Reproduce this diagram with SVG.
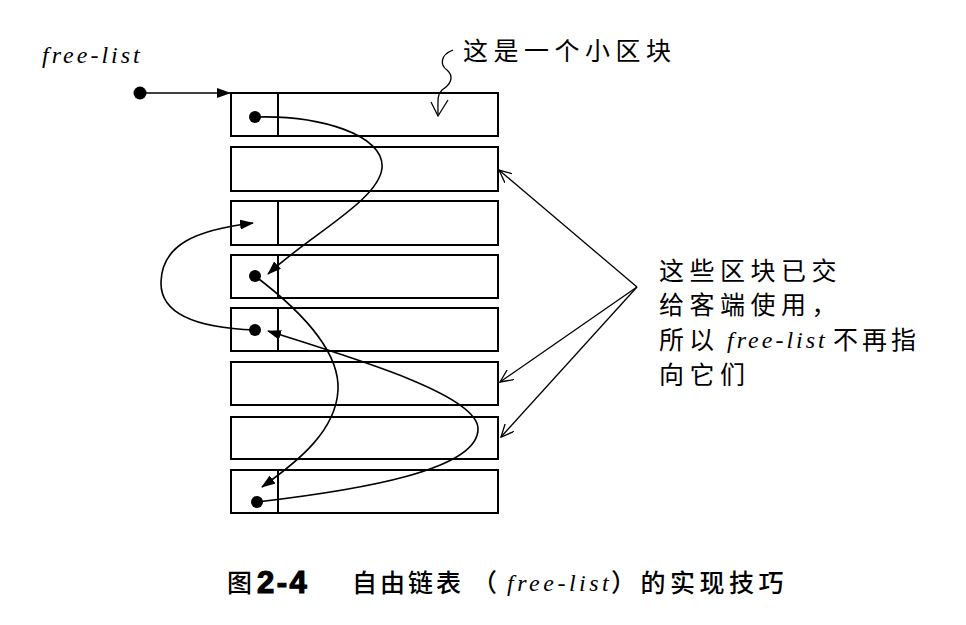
<svg xmlns="http://www.w3.org/2000/svg" width="966" height="625" viewBox="0 0 966 625">
<style>
.blk{fill:#fff;stroke:#000;stroke-width:2}
.div{stroke:#000;stroke-width:2}
.dot{fill:#000}
.cv{fill:none;stroke:#000;stroke-width:1.6}
.ann{fill:none;stroke:#000;stroke-width:1.3}
.cjk{font-family:"Noto Sans CJK SC","Noto Sans",sans-serif;font-size:25px;fill:#000}
.it{font-family:"Liberation Serif","Times New Roman",serif;font-style:italic;font-size:24px;fill:#000}
.cap{font-family:"Noto Sans CJK SC","Noto Sans",sans-serif;font-size:25px;fill:#000;font-weight:500}
</style>
<defs>
<marker id="tri" viewBox="0 0 14 10" refX="13" refY="5" markerWidth="14" markerHeight="10" markerUnits="userSpaceOnUse" orient="auto">
<path d="M0,0 L14,5 L0,10 Z" fill="#000"/>
</marker>
<marker id="open" viewBox="0 0 14 12" refX="13" refY="6" markerWidth="14" markerHeight="12" markerUnits="userSpaceOnUse" orient="auto">
<path d="M0,0 L13,6 L0,12" fill="none" stroke="#000" stroke-width="1.3"/>
</marker>
</defs>
<rect width="966" height="625" fill="#fff"/>

<g id="label-free-list">
<text class="it" x="42" y="63" letter-spacing="3">free-list</text>
</g>

<g id="block1"><rect class="blk" x="231" y="93" width="267" height="43"/><line class="div" x1="278" y1="93" x2="278" y2="136"/><circle class="dot" cx="255" cy="117" r="6"/></g>
<g id="block2"><rect class="blk" x="231" y="147" width="267" height="44"/></g>
<g id="block3"><rect class="blk" x="231" y="201" width="267" height="44"/><line class="div" x1="278" y1="201" x2="278" y2="245"/></g>
<g id="block4"><rect class="blk" x="231" y="255" width="267" height="43"/><line class="div" x1="278" y1="255" x2="278" y2="298"/><circle class="dot" cx="255" cy="276" r="6"/></g>
<g id="block5"><rect class="blk" x="231" y="308" width="267" height="43"/><line class="div" x1="278" y1="308" x2="278" y2="351"/><circle class="dot" cx="255" cy="330" r="6"/></g>
<g id="block6"><rect class="blk" x="231" y="362" width="267" height="43"/></g>
<g id="block7"><rect class="blk" x="231" y="417" width="267" height="42"/></g>
<g id="block8"><rect class="blk" x="231" y="470" width="267" height="43"/><line class="div" x1="278" y1="470" x2="278" y2="513"/><circle class="dot" cx="257" cy="502" r="6"/></g>

<g id="label-small-block">
<text class="cjk" x="463" y="60" letter-spacing="5.5">这是一个小区块</text>
</g>

<g id="label-allocated">
<text class="cjk" x="659" y="280" letter-spacing="5.5">这些区块已交</text>
<text class="cjk" x="659" y="314" letter-spacing="5.5">给客端使用，</text>
<text class="cjk" x="659" y="349" letter-spacing="5">所以</text>
<text class="it" x="727" y="348" letter-spacing="3">free-list</text>
<text class="cjk" x="833" y="349" letter-spacing="4">不再指</text>
<text class="cjk" x="659" y="384" letter-spacing="5.5">向它们</text>
</g>

<g id="caption">
<text class="cap" x="227" y="592">图</text>
<text x="257" y="593" font-family="Liberation Sans,Arial,sans-serif" font-weight="bold" font-size="31" stroke="#000" stroke-width="1.2" letter-spacing="2.5">2-4</text>
<text class="cap" x="352" y="592" letter-spacing="3">自由链表</text>
<text class="cap" x="472" y="592">（</text>
<text class="it" x="507" y="591" letter-spacing="3.5">free-list</text>
<text class="cap" x="611" y="592" letter-spacing="4.5">）的实现技巧</text>
</g>

<g id="connectors">
<circle class="dot" cx="140" cy="93" r="6.5"/>
<line class="cv" x1="140" y1="93" x2="230" y2="93" marker-end="url(#tri)"/>
<path class="cv" d="M255,117 C320,115 385,135 382,168 C379,200 310,235 268,274" marker-end="url(#tri)"/>
<path class="cv" d="M255,276 C300,310 340,350 338,390 C336,430 300,460 262,487" marker-end="url(#tri)"/>
<path class="cv" d="M257,502 C360,490 480,470 478,428 C476,395 360,360 268,331" marker-end="url(#tri)"/>
<path class="cv" d="M255,330 C200,328 160,315 161,282 C162,245 195,230 253,223" marker-end="url(#tri)"/>
<path class="ann" d="M637,287 L499,170" marker-end="url(#open)"/>
<path class="ann" d="M637,287 L500,382" marker-end="url(#open)"/>
<path class="ann" d="M637,287 L501,437" marker-end="url(#open)"/>
<path class="ann" d="M453,50 C440,55 440,65 447,70 C455,77 450,85 442,90 C437,95 438,100 438,115"/>
<path class="ann" d="M431,102 L438,116 L448,100"/>
</g>
</svg>
